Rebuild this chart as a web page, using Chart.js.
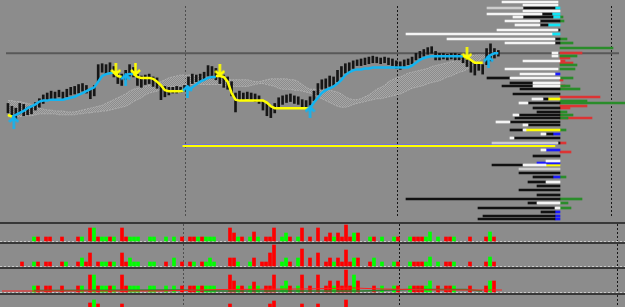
<!DOCTYPE html>
<html>
<head>
<meta charset="utf-8">
<script src="https://cdn.jsdelivr.net/npm/chart.js@4.4.1/dist/chart.umd.min.js"></script>
<style>
html, body { margin: 0; padding: 0; background: #8c8c8c; overflow: hidden; }
#wrap { position: relative; width: 625px; height: 307px; }
.pane { position: absolute; left: 0; width: 625px; }
.sep { position: absolute; left: 0; width: 625px; height: 2px; background: #383838; }
canvas { display: block; }
</style>
</head>
<body>
<div id="wrap">
  <div class="pane" style="top:0;height:222px"><canvas id="main" width="625" height="222"></canvas></div>
  <div class="pane" style="top:0;height:222px"><canvas id="profile" width="625" height="222"></canvas></div>
  <div class="sep" style="top:222px"></div>
  <div class="pane" style="top:224px;height:18px"><canvas id="vol1" width="625" height="18"></canvas></div>
  <div class="sep" style="top:242px"></div>
  <div class="pane" style="top:244px;height:23px"><canvas id="vol2" width="625" height="23"></canvas></div>
  <div class="sep" style="top:267px"></div>
  <div class="pane" style="top:269px;height:24px"><canvas id="vol3" width="625" height="24"></canvas></div>
  <div class="sep" style="top:293px"></div>
  <div class="pane" style="top:295px;height:12px"><canvas id="vol4" width="625" height="12"></canvas></div>
</div>
<script>
const candleHigh = [103,106,108,103,104,107,106,102,98,94, 92,90,91,89,91,88,86,85,83,82,
  84,88,84,62,61,62,60,64,70,72, 68,62,65,72,74,73,72,75,76,84,
  85,86,86,85,86,84,75,72,73,72, 70,63,64,66,70,73,75,80,92,90,
  92,91,92,93,95,100,104,106,103,97, 95,94,93,95,96,99,100,96,90,82,
  78,77,74,75,68,64,61,60,58,57, 56,55,54,53,54,55,54,55,56,58,
  59,57,56,54,50,48,46,44,43,48, 50,50,51,50,50,51,53,55,58,60,
  60,62,45,40,45,47];
const candleLow = [113,117,120,114,116,115,114,110,107,103, 100,98,99,96,98,96,94,93,92,90,
  92,98,95,80,70,72,70,75,82,84, 78,74,75,84,86,83,82,85,87,99,
  96,94,92,92,91,90,85,82,80,79, 78,74,76,78,82,86,88,95,112,100,
  99,98,100,101,103,110,116,118,113,107, 104,102,101,103,104,107,108,106,100,94,
  88,87,85,84,80,75,71,70,66,63, 63,62,61,60,60,61,60,62,63,66,
  67,64,62,61,57,55,53,51,50,57, 57,56,57,56,57,57,60,64,70,73,
  68,72,62,58,55,53];
const trendBlue = [null,117,115,113,111,108,106,104,101,100, 100,99,99,99,99,98,97,96,94,92,
  90,88,86,80,74,72,71,70,null,null, 73,72,72,null,null,null,null,null,null,null,
  null,null,null,null,null,null,89,86,83,80, 78,76,75,75,null,null,null,null,null,null,
  null,null,null,null,null,null,null,null,null,null, null,null,null,null,null,null,null,108,102,97,
  92,89,87,85,82,78,73,70,68,67, 67,66,66,65,65,65,65,65,65,65,
  65,65,65,63,60,57,55,54,53,53, 53,53,53,53,53,53,53,null,null,null,
  null,null,55,52,50,50];
const trendYellow = [115,117,null,null,null,null,null,null,null,null, null,null,null,null,null,null,null,null,null,null,
  null,null,null,null,null,null,null,70,74,75, null,null,72,75,76,76,76,77,80,84,
  89,90,90,90,90,89,null,null,null,null, null,null,null,74,74,75,80,92,99,100,
  100,100,100,100,100,100,102,106,108,108, 108,108,108,108,108,108,108,108,null,null,
  null,null,null,null,null,null,null,null,null,null, null,null,null,null,null,null,null,null,null,null,
  null,null,null,null,null,null,null,null,null,null, null,null,null,null,null,null,53,54,57,60,
  60,60,null,null,null,null];
const cloudUpper = [100,100,101,101,102,103,104,106,108,109, 110,110,111,111,111,112,112,112,111,110,
  109,108,107,106,105,103,101,99,97,95, 93,90,88,87,86,85,84,84,82,80,
  78,76,75,74,73,73,73,73,74,74, 75,76,76,77,78,78,78,78,78,78,
  78,78,79,80,80,79,78,77,77,77, 77,77,78,78,80,83,86,88,88,88,
  88,88,89,90,91,93,96,98,99,99, 98,96,94,91,88,86,84,80,78,76,
  75,73,71,70,69,68,67,66,64,63, 62,61,60,59,58,57,56,55,53,52,
  51,50,49,48,48,47];
const cloudLower = [117,117,117,117,116,116,116,115,114,114, 114,114,114,115,115,115,115,115,114,114,
  113,113,112,112,111,111,110,109,108,107, 106,104,101,99,97,94,92,91,90,88,
  87,86,85,85,84,83,83,83,83,83, 83,83,83,83,83,84,84,85,85,85,
  85,85,84,83,82,82,83,84,85,87, 88,88,88,89,89,90,91,92,94,96,
  98,100,102,104,106,107,107,106,104,103, 102,101,100,99,98,98,97,96,95,94,
  93,91,89,87,86,85,84,82,81,80, 79,77,75,74,72,70,69,67,64,61,
  58,55,52,51,50,50];
const buyArrows = [[1.5,123],[30,78],[45.75,90],[77,112],[122.5,59]];
const sellArrows = [[27.5,67],[32.5,67],[54,68],[117,50]];
const sessionBreaks = [45.25, 99.25, 153.75];
const priceLine = 50;
const levelLine = { price: 148, from: 44.5, to: 139.5 };

// volume profile rows: [price row, from, to] in volume counted leftwards from the profile edge
const pvLight = [[2,2,58],[5,2,37],[11,0,37],[14,18,73],[17,37,47],[21,20,55],[25,20,45],[30,2,63],[34,8,154],
  [39,5,113],[43,5,55],[53,2,8],[56,2,8],[61,0,37],[69,2,55],[74,5,40],[78,0,50],[83,0,27],[86,0,27],
  [99,17,28],[103,32,41],[115,41,47],[122,50,64],[125,32,37],[130,34,37],[134,14,19],[138,46,50],
  [150,14,19],[161,0,14],[165,14,37],[182,0,14],[203,0,23],[208,0,5]];
const pvGray = [[8,37,73],[143,2,68],[169,0,41]];
const pvDark = [[8,5,37],[14,8,18],[17,7,37],[21,0,20],[25,12,20],[30,0,2],[39,0,5],[43,0,5],[78,50,73],
  [83,27,50],[86,27,58],[89,0,40],[94,0,47],[99,12,17],[103,0,32],[108,0,27],[112,0,23],[115,0,41],
  [118,0,45],[122,0,50],[125,0,32],[130,37,50],[134,7,14],[138,0,46],[143,0,2],[156,0,27],[165,37,68],
  [173,0,41],[177,7,27],[182,14,32],[186,0,23],[190,0,41],[195,0,23],[199,0,154],[203,23,32],
  [208,5,82],[212,5,19],[216,5,77],[219,5,82]];
const pvCyan = [[8,0,5],[14,0,8],[17,0,7],[25,0,12],[34,0,8]];
const pvBlue = [[74,0,5],[134,0,7],[150,0,14],[163,0,23],[177,0,7],[212,0,5],[216,0,5],[219,0,5]];
const pvYellow = [[99,0,12],[130,0,34],[165,0,14]];
const deltaGreen = [[17,3],[21,4],[39,7],[43,13],[48,53],[56,17],[65,17],[69,15],[78,13],[86,10],[89,20],
  [101,27],[103,65],[112,7],[115,13],[118,8],[130,6],[177,6],[199,22],[203,8],[208,11]];
const deltaRed = [[53,22],[58,10],[61,5],[63,13],[80,3],[86,5],[97,40],[106,27],[108,10],[115,3],[118,32],
  [143,6],[152,11]];

// histogram panes: [bar index, height]
const vol1Green = [[8,4],[20,4],[23,13],[25,4],[26,4],[28,4],[32,4],[33,4],[34,4],[37,4],[38,4],[41,4],[43,4],
  [49,4],[51,4],[52,4],[53,4],[59,4],[62,4],[64,4],[70,4],[71,8],[74,4],[83,4],[88,8],[92,4],[95,4],[98,4],
  [102,4],[106,4],[107,9],[109,4],[113,4],[122,9]];
const vol1Red = [[9,4],[11,4],[12,4],[15,4],[19,4],[22,13],[24,4],[27,4],[30,13],[31,4],[45,4],[47,4],[48,4],
  [50,4],[57,13],[58,8],[60,4],[63,9],[66,4],[67,4],[68,13],[72,4],[75,13],[77,4],[79,13],[81,4],[82,8],
  [84,8],[85,4],[86,16],[87,4],[89,8],[93,4],[99,4],[103,4],[104,4],[105,4],[111,4],[112,4],[117,4],
  [121,4],[123,4]];
const vol2Green = [[8,4],[16,4],[20,8],[25,4],[26,4],[28,4],[32,8],[33,4],[34,4],[37,4],[38,4],[43,8],[48,4],
  [51,4],[52,8],[53,4],[59,4],[62,4],[70,4],[71,8],[74,8],[83,4],[88,8],[93,8],[95,4],[98,4],[102,4],
  [106,4],[107,9],[109,4],[113,4],[122,9]];
const vol2Red = [[5,4],[9,4],[11,4],[12,4],[15,4],[19,4],[21,4],[22,13],[24,4],[27,4],[30,13],[31,4],[41,4],
  [45,4],[47,4],[50,4],[57,8],[58,8],[63,8],[65,4],[66,4],[67,13],[68,21],[72,4],[75,17],[77,8],[79,13],
  [81,4],[82,8],[84,8],[85,4],[86,16],[87,4],[89,8],[92,4],[99,4],[103,4],[104,4],[105,4],[111,4],
  [112,4],[117,4],[121,4],[123,4]];
const vol3Green = [[8,6],[20,6],[23,17],[25,6],[26,6],[28,6],[32,6],[33,6],[34,6],[37,6],[38,6],[41,6],[43,6],
  [49,6],[51,6],[52,6],[53,6],[59,6],[62,6],[64,6],[70,6],[71,11],[74,6],[83,6],[88,17],[95,6],[98,6],
  [102,6],[106,6],[107,11],[113,6],[122,11]];
const vol3Red = [[9,6],[11,6],[12,6],[15,6],[19,6],[22,17],[24,6],[27,6],[30,17],[31,6],[45,6],[47,6],[48,6],
  [50,6],[57,17],[58,11],[60,6],[63,10],[66,6],[67,6],[68,17],[72,6],[75,17],[77,6],[79,17],[81,6],
  [82,11],[84,11],[85,6],[86,22],[87,6],[89,11],[93,6],[99,6],[103,6],[104,6],[105,6],[109,6],[111,6],
  [112,6],[117,6],[121,6],[123,11]];
const vol3RedAvg = [[0,1],[40,1],[55,2.5],[75,3],[88,4],[95,3],[110,2],[125,2]];
const vol3GreenAvg = [[8,1.5],[45,2],[55,1],[90,1],[102,2.5],[116,2.5],[120,1]];
const vol4Green = [[23,17]];
const vol4Red = [[22,14],[24,13],[30,13],[57,13],[67,13],[68,16],[75,13],[79,13],[86,17]];

const X_MIN = -0.5, X_MAX = 155.75;
const BLUE = '#14b4f0', YELLOW = '#ffff00';

const breaksPlugin = {
  id: 'breaks',
  beforeDatasetsDraw(chart) {
    const { ctx, chartArea, scales } = chart;
    ctx.save();
    ctx.lineWidth = 1;
    ctx.setLineDash([2, 2]);
    sessionBreaks.forEach((b, k) => {
      const x = Math.round(scales.x.getPixelForValue(b)) + 0.5;
      ctx.strokeStyle = k === 0 ? '#4e4e4e' : '#161616';
      ctx.beginPath();
      ctx.moveTo(x, chartArea.top);
      ctx.lineTo(x, chartArea.bottom);
      ctx.stroke();
    });
    ctx.restore();
  }
};

const zeroPlugin = {
  id: 'zero',
  beforeDatasetsDraw(chart) {
    const { ctx, chartArea, scales } = chart;
    const y = Math.round(scales.y.getPixelForValue(0)) + 0.5;
    ctx.save();
    ctx.strokeStyle = '#c8c8c8';
    ctx.setLineDash([2, 2]);
    ctx.beginPath();
    ctx.moveTo(chartArea.left, y);
    ctx.lineTo(chartArea.right, y);
    ctx.stroke();
    ctx.restore();
  }
};

function baseOptions(yMin, yMax, reverse) {
  return {
    responsive: false,
    animation: false,
    events: [],
    layout: { padding: 0 },
    elements: { point: { radius: 0 } },
    plugins: { legend: { display: false }, tooltip: { enabled: false } },
    scales: {
      x: { type: 'linear', display: false, offset: false, min: X_MIN, max: X_MAX },
      y: { type: 'linear', display: false, offset: false, min: yMin, max: yMax, reverse: !!reverse }
    }
  };
}

function arrowImg(color, up) {
  const c = document.createElement('canvas');
  c.width = 11; c.height = 13;
  const g = c.getContext('2d');
  g.strokeStyle = color;
  g.lineWidth = 2.5;
  g.beginPath();
  if (up) {
    g.moveTo(5.5, 1.5); g.lineTo(5.5, 13);
    g.moveTo(1, 6); g.lineTo(5.5, 1.5); g.lineTo(10, 6);
  } else {
    g.moveTo(5.5, 0); g.lineTo(5.5, 11.5);
    g.moveTo(1, 7); g.lineTo(5.5, 11.5); g.lineTo(10, 7);
  }
  g.stroke();
  return c;
}

const pts = arr => arr.map((v, i) => ({ x: i, y: v }));
const pairs = arr => arr.map(p => ({ x: p[0], y: p[1] }));

// main price pane
const mainCanvas = document.getElementById('main');
const dots = document.createElement('canvas');
dots.width = 2; dots.height = 2;
const dg = dots.getContext('2d');
dg.fillStyle = '#a6a6a6';
dg.fillRect(0, 0, 1, 1);
dg.fillRect(1, 1, 1, 1);
const cloudFill = mainCanvas.getContext('2d').createPattern(dots, 'repeat');

new Chart(mainCanvas, {
  type: 'bar',
  plugins: [breaksPlugin],
  data: {
    datasets: [
      { type: 'line', data: pts(cloudUpper), borderColor: '#b0b0b0', borderWidth: 1, borderDash: [2, 1],
        fill: '+1', backgroundColor: cloudFill, order: 20 },
      { type: 'line', data: pts(cloudLower), borderColor: '#b0b0b0', borderWidth: 1, borderDash: [2, 1],
        fill: false, order: 19 },
      { type: 'line', data: [{ x: X_MIN, y: priceLine }, { x: X_MAX, y: priceLine }],
        borderColor: '#585858', borderWidth: 2, order: 18 },
      { type: 'line', data: [{ x: levelLine.from, y: levelLine.price - 1.5 }, { x: levelLine.to, y: levelLine.price - 1.5 }],
        borderColor: '#7070e8', borderWidth: 1, order: 17 },
      { type: 'line', data: [{ x: levelLine.from, y: levelLine.price }, { x: levelLine.to, y: levelLine.price }],
        borderColor: YELLOW, borderWidth: 2, order: 16 },
      { type: 'bar', data: candleHigh.map((h, i) => ({ x: i, y: [h, candleLow[i]] })),
        backgroundColor: '#161616', barThickness: 2, grouped: false, order: 10 },
      { type: 'line', data: pts(trendBlue), borderColor: BLUE, borderWidth: 2.5, order: 5 },
      { type: 'line', data: pts(trendYellow), borderColor: YELLOW, borderWidth: 2.5, order: 4 },
      { type: 'line', data: pairs(buyArrows), showLine: false, pointRadius: 5,
        pointStyle: arrowImg(BLUE, true), order: 1 },
      { type: 'line', data: pairs(sellArrows), showLine: false, pointRadius: 5,
        pointStyle: arrowImg(YELLOW, false), order: 1 }
    ]
  },
  options: baseOptions(0, 222, true)
});

// volume profile on the right of the price pane
const pvRows = (arr, color) => ({
  data: arr.map(r => ({ y: r[0], x: [r[1], r[2]] })),
  backgroundColor: color, xAxisID: 'x', barThickness: 2, grouped: false
});
const deltaRows = (arr, color) => ({
  data: arr.map(r => ({ y: r[0], x: [0, r[1]] })),
  backgroundColor: color, xAxisID: 'xd', barThickness: 2, grouped: false
});
new Chart(document.getElementById('profile'), {
  type: 'bar',
  data: {
    datasets: [
      pvRows(pvLight, '#f4f4f4'),
      pvRows(pvGray, '#cdcdcd'),
      pvRows(pvDark, '#111111'),
      pvRows(pvCyan, '#10e4f4'),
      pvRows(pvBlue, '#1a1aff'),
      pvRows(pvYellow, YELLOW),
      deltaRows(deltaGreen, '#2a8c2a'),
      deltaRows(deltaRed, '#dc3434')
    ]
  },
  options: {
    responsive: false,
    animation: false,
    events: [],
    indexAxis: 'y',
    layout: { padding: 0 },
    plugins: { legend: { display: false }, tooltip: { enabled: false } },
    scales: {
      x: { type: 'linear', display: false, offset: false, min: -65, max: 560, reverse: true },
      xd: { type: 'linear', display: false, offset: false, min: -560, max: 65 },
      y: { type: 'linear', display: false, offset: false, min: 0, max: 222, reverse: true }
    }
  }
});

// histogram panes
function volPane(id, green, red, yMin, yMax, extra, zero) {
  const datasets = [
    { type: 'bar', data: pairs(red), backgroundColor: '#ff0000', barThickness: 3, grouped: false, order: 5 },
    { type: 'bar', data: pairs(green), backgroundColor: '#00ff00', barThickness: 3, grouped: false, order: 5 }
  ].concat(extra || []);
  new Chart(document.getElementById(id), {
    type: 'bar',
    plugins: zero ? [breaksPlugin, zeroPlugin] : [breaksPlugin],
    data: { datasets },
    options: baseOptions(yMin, yMax, false)
  });
}
volPane('vol1', vol1Green, vol1Red, -1, 17, null, true);
volPane('vol2', vol2Green, vol2Red, -1, 22, null, true);
volPane('vol3', vol3Green, vol3Red, -1, 23, [
  { type: 'line', data: pairs(vol3GreenAvg), borderColor: '#2f7d2f', borderWidth: 1.5, order: 1 },
  { type: 'line', data: pairs(vol3RedAvg), borderColor: '#ff2020', borderWidth: 1, order: 0 }
], true);
volPane('vol4', vol4Green, vol4Red, 10, 22, null, false);
</script>
</body>
</html>
